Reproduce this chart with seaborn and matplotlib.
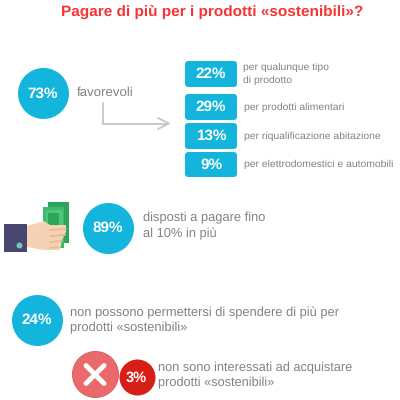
import pandas as pd
import seaborn as sns
import matplotlib.pyplot as plt
from matplotlib.patches import FancyBboxPatch, Rectangle, Polygon

# =============================
# Data
# =============================
title = "Pagare di più per i prodotti «sostenibili»?"
main_labels = ["73%", "89%", "24%"]
main_texts = ["favorevoli", "disposti a pagare fino\nal 10% in più",
              "non possono permettersi di spendere di più per\nprodotti «sostenibili»"]
box_labels = ["22%", "29%", "13%", "9%"]
box_texts = ["per qualunque tipo\ndi prodotto", "per prodotti alimentari",
             "per riqualificazione abitazione", "per elettrodomestici e automobili"]
red_label = "3%"
red_text = "non sono interessati ad acquistare\nprodotti «sostenibili»"

# =============================
# Colors / layout
# =============================
BLUE = "#13b5dc"
GREY = "#808285"

sns.set_style("white")
plt.rcParams["font.family"] = ["Liberation Sans", "DejaVu Sans"]
plt.rcParams["text.hinting"] = "none"
plt.rcParams["text.hinting_factor"] = 8

fig, ax = plt.subplots(figsize=(4, 4), dpi=100)
ax.set_position([0, 0, 1, 1])


def px_size(d):
    # diameter in pixels to scatter area in pt^2
    return (d * 0.72) ** 2


circles = pd.DataFrame({
    "x": [42.5, 108, 37],
    "y": [93, 227.5, 319.5],
})
sns.scatterplot(data=circles, x="x", y="y", s=px_size(51), color=BLUE,
                linewidth=0, ax=ax, zorder=3)
sns.scatterplot(x=[95], y=[374], s=px_size(47), color="#cf5a5c", linewidth=0, ax=ax, zorder=3)
sns.scatterplot(x=[94.5], y=[373.5], s=px_size(46), color="#ea6a6b", linewidth=0, ax=ax, zorder=3)
sns.scatterplot(x=[137], y=[377], s=px_size(36), color="#d81f17", linewidth=0, ax=ax, zorder=5)

ax.set_xlim(0, 400)
ax.set_ylim(400, 0)
ax.axis("off")

ax.text(212.5, 11.5, title, color="#f93232", fontsize=11.1, fontweight="bold",
        ha="center", va="center")

# circle labels
for lab, x, y in zip(main_labels, circles["x"], circles["y"]):
    ax.text(x, y + 0.5, lab, color="white", fontsize=11, fontweight="bold",
            ha="center", va="center", zorder=6)
ax.text(136.5, 377.5, red_label, color="white", fontsize=10.5, fontweight="bold",
        ha="center", va="center", zorder=6)

# main texts
ax.text(77, 93, main_texts[0], color=GREY, fontsize=9.5, va="center")
ax.text(143, 226, main_texts[1], color=GREY, fontsize=9.25, va="center", linespacing=1.38)
ax.text(70, 320.5, main_texts[2], color=GREY, fontsize=9.25, va="center", linespacing=1.38)
ax.text(158, 375.5, red_text, color=GREY, fontsize=9.2, va="center", linespacing=1.37, zorder=6)

# boxes
box_y = [74, 107, 136, 164.5]
box_h = [26, 26, 26, 25]
box_text_x = [243, 244, 243.5, 244.5]
for lab, txt, y, h, tx in zip(box_labels, box_texts, box_y, box_h, box_text_x):
    ax.add_patch(FancyBboxPatch((187, y - h / 2 + 2), 48, h - 4,
                                boxstyle="round,pad=2,rounding_size=3.5",
                                fc=BLUE, ec="none", zorder=3))
    ax.text(211, y, lab, color="white", fontsize=11, fontweight="bold",
            ha="center", va="center", zorder=4)
    ax.text(tx, y, txt, color=GREY, fontsize=7.5, va="center", linespacing=1.45)

# arrow
ax.plot([103, 103, 168], [103, 123.5, 123.5], color="#c4c6c6", lw=1.3, zorder=2,
        solid_joinstyle="miter")
ax.plot([158, 169, 158], [118, 123.5, 129], color="#c4c6c6", lw=1.3, zorder=2)

# hand with money
ax.add_patch(Rectangle((48, 202), 21, 41, fc="#2fa55b", ec="none", zorder=2))
ax.add_patch(Rectangle((43, 207), 21, 41, fc="#3dba6a", ec="none", zorder=2))
ax.add_patch(Rectangle((46, 210), 17, 30, fc="#4fc57c", ec="none", zorder=2))
ax.add_patch(Rectangle((48, 213), 11, 20, fc="#2fa55b", ec="none", zorder=2))
ax.add_patch(Polygon([(27, 226), (44, 221), (50, 225), (66, 225), (66, 232), (62, 240),
                      (60, 250), (44, 250), (27, 247)], fc="#f5d2b3", ec="none", zorder=3))
ax.add_patch(Rectangle((4, 224), 23, 28, fc="#46466e", ec="none", zorder=4))
sns.scatterplot(x=[19], y=[245], s=px_size(6), color="#6fc5b8", linewidth=0, ax=ax, zorder=5)
for fy, fx in zip([230, 236, 242, 248], [66, 65, 62, 58]):
    ax.plot([50, fx], [fy, fy - 1], color="#e8b996", lw=1.2, zorder=4)

# X icon
ax.plot([86, 104], [365.5, 383.5], color="white", lw=3.5, solid_capstyle="round", zorder=4)
ax.plot([104, 86], [365.5, 383.5], color="white", lw=3.5, solid_capstyle="round", zorder=4)

fig.savefig("out.png", dpi=100)
